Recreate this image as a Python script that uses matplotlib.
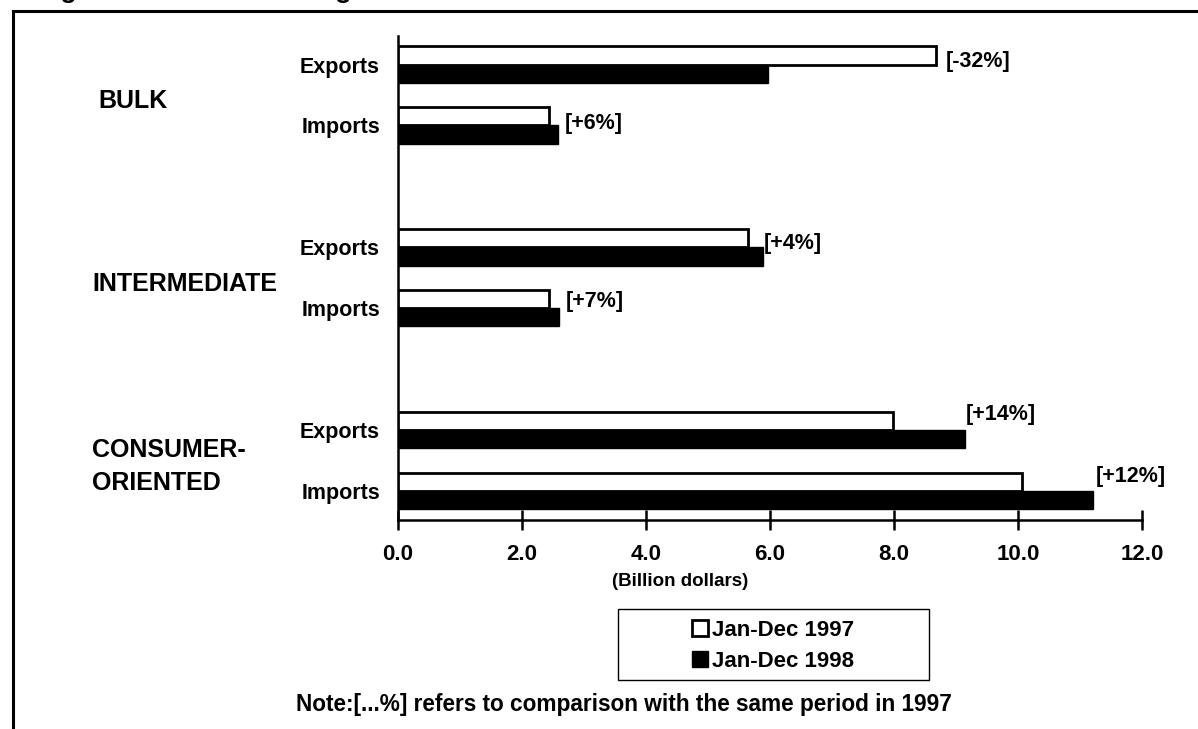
import matplotlib
matplotlib.use("Agg")
import matplotlib.pyplot as plt
from matplotlib.lines import Line2D
from matplotlib.patches import Rectangle
from matplotlib.transforms import blended_transform_factory

plt.rcParams['font.family'] = ['Liberation Sans', 'DejaVu Sans']
plt.rcParams['font.weight'] = 'bold'

# ---------------- data ----------------
groups = ["BULK", "INTERMEDIATE", "CONSUMER-\nORIENTED"]
row_labels = ["Exports", "Imports", "Exports", "Imports", "Exports", "Imports"]
values_1997 = [8.68, 2.43, 5.65, 2.43, 7.98, 10.06]
values_1998 = [5.96, 2.58, 5.88, 2.60, 9.14, 11.21]
pct_labels = ["[-32%]", "[+6%]", "[+4%]", "[+7%]", "[+14%]", "[+12%]"]
series_names = ["Jan-Dec 1997", "Jan-Dec 1998"]
xticks = [0, 2, 4, 6, 8, 10, 12]
xtick_labels = ["0.0", "2.0", "4.0", "6.0", "8.0", "10.0", "12.0"]
note = "Note:[...%] refers to comparison with the same period in 1997"

# ---------------- layout ----------------
W, H = 1198, 729
fig = plt.figure(figsize=(W / 100, H / 100), dpi=100)

def fx(px):
    return px / W

def fy(py):
    return 1 - py / H

ax_left, ax_right, ax_top, ax_bottom = 398, 1142, 36, 520
ax = fig.add_axes([fx(ax_left), fy(ax_bottom), (ax_right - ax_left) / W,
                   (ax_bottom - ax_top) / H])

rows = [0, 1, 3, 4, 6, 7]
bh = 0.3
ax.barh([r - bh / 2 for r in rows], values_1997, height=bh, color='white',
        edgecolor='black', linewidth=2.0, label=series_names[0], zorder=3)
ax.barh([r + bh / 2 for r in rows], values_1998, height=bh, color='black',
        edgecolor='black', linewidth=1.0, label=series_names[1], zorder=3)

ax.set_xlim(0, 12)
ax.set_ylim(7.476, -0.468)

for s in ['top', 'right']:
    ax.spines[s].set_visible(False)
for s in ['left', 'bottom']:
    ax.spines[s].set_linewidth(1.8)

ax.set_xticks(xticks)
ax.set_xticklabels(xtick_labels, fontsize=16, fontweight='bold')
ax.tick_params(axis='x', direction='inout', length=14, width=1.8, pad=10)
ax.set_yticks(rows)
ax.set_yticklabels(row_labels, fontsize=15.5, fontweight='bold')
ax.tick_params(axis='y', length=0, pad=13)

# percent-change labels next to the bars
label_dx = [0.16, 0.11, 0.02, 0.11, 0.02, 0.05]
label_dy = [-0.05, -0.03, -0.07, -0.11, -0.25, -0.23]
for r, a, b, t, dx, dy in zip(rows, values_1997, values_1998, pct_labels,
                              label_dx, label_dy):
    ax.text(max(a, b) + dx, r + dy, t, fontsize=15.5, fontweight='bold',
            ha='left', va='center', zorder=4)

# group labels on the far left
trans = blended_transform_factory(fig.transFigure, ax.transData)
group_start = [0, 3, 6]
group_x = [98, 92, 92]
for g, r0, gx in zip(groups, group_start, group_x):
    fig.text(fx(gx), r0 + 0.6, g, transform=trans, fontsize=18,
             fontweight='bold', ha='left', va='center', linespacing=1.5)

# axis title
fig.text(fx(680), fy(582), "(Billion dollars)", fontsize=13.5,
         fontweight='bold', ha='center', va='center')

# legend with box
fig.patches.append(Rectangle((fx(618), fy(680)), (929 - 618) / W, (680 - 609) / H,
                             transform=fig.transFigure, facecolor='white',
                             edgecolor='black', linewidth=1.0))
handles = [Line2D([], [], linestyle='none', marker='s', markersize=11,
                  markerfacecolor='white', markeredgecolor='black',
                  markeredgewidth=2.0),
           Line2D([], [], linestyle='none', marker='s', markersize=11,
                  markerfacecolor='black', markeredgecolor='black',
                  markeredgewidth=1.0)]
leg = fig.legend(handles, series_names, loc='center',
                 bbox_to_anchor=(fx(773), fy(646)), frameon=False,
                 prop={'size': 16, 'weight': 'bold'}, handlelength=0.8,
                 handletextpad=0.15, labelspacing=0.45, borderpad=0.2)

# note
fig.text(fx(624), fy(704), note, fontsize=16.3, fontweight='bold',
         ha='center', va='center')

# outer frame (top and left lines)
fig.add_artist(Line2D([fx(13), 1.0], [fy(11), fy(11)], transform=fig.transFigure,
                      color='black', linewidth=2.2))
fig.add_artist(Line2D([fx(13), fx(13)], [fy(11), 0.0], transform=fig.transFigure,
                      color='black', linewidth=2.2))

# title mostly cut off above the frame (only descenders visible)
fig.text(fx(37), fy(-2), "Figure 3. U.S.-Canada Agricultural Trade",
         fontsize=19, fontweight='bold', ha='left', va='baseline')

fig.savefig("out.png", dpi=100)
